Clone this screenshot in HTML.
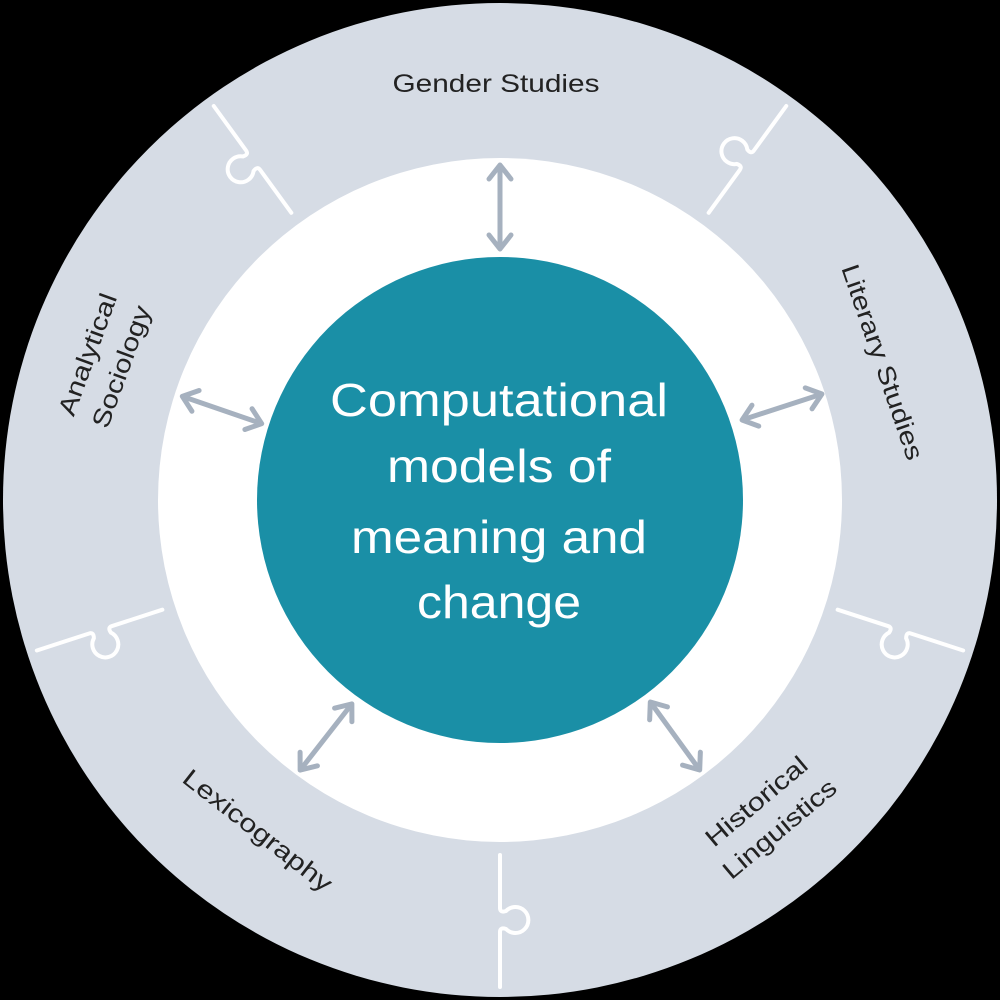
<!DOCTYPE html>
<html><head><style>html,body{margin:0;padding:0;background:#000}svg{display:block}</style></head>
<body>
<svg width="1000" height="1000" viewBox="0 0 1000 1000" xmlns="http://www.w3.org/2000/svg">
<defs>
<g id="sep"><path d="M355,0 L408,0 Q413,0 411,6 A13,13 0 1 0 429,6 Q427,0 432,0 L487,0" fill="none" stroke="#fff" stroke-width="4" stroke-linecap="round"/></g>
<g id="arr"><line x1="0" y1="-40" x2="0" y2="40" stroke="#a6b1bf" stroke-width="5"/><polyline points="-11,-28 0,-42 11,-28" fill="none" stroke="#a6b1bf" stroke-width="5" stroke-linecap="round" stroke-linejoin="round"/><polyline points="-11,28 0,42 11,28" fill="none" stroke="#a6b1bf" stroke-width="5" stroke-linecap="round" stroke-linejoin="round"/></g>
</defs>
<rect width="1000" height="1000" fill="#000"/>
<circle cx="500" cy="500" r="497" fill="#d6dce5"/>
<circle cx="500" cy="500" r="342" fill="#fff"/>
<circle cx="500" cy="500" r="243" fill="#1a8fa6"/>
<g transform="translate(500,500)">
<use href="#sep" transform="rotate(90) scale(1,-1)"/>
<use href="#sep" transform="rotate(162) scale(1,-1)"/>
<use href="#sep" transform="rotate(234) scale(1,-1)"/>
<use href="#sep" transform="rotate(306) scale(1,-1)"/>
<use href="#sep" transform="rotate(18)"/>
</g>
<use href="#arr" transform="translate(500,207)"/>
<use href="#arr" transform="translate(222,410) rotate(-71)"/>
<use href="#arr" transform="translate(782,407) rotate(72)"/>
<use href="#arr" transform="translate(326,737) rotate(38)"/>
<use href="#arr" transform="translate(675,736) rotate(-36)"/>
<g font-family="'Liberation Sans', sans-serif" fill="#fff" font-size="46" text-anchor="middle">
<text x="499" y="416" textLength="338" lengthAdjust="spacingAndGlyphs">Computational</text>
<text x="499" y="482" textLength="224" lengthAdjust="spacingAndGlyphs">models of</text>
<text x="499" y="553" textLength="296" lengthAdjust="spacingAndGlyphs">meaning and</text>
<text x="499" y="618" textLength="164" lengthAdjust="spacingAndGlyphs">change</text>
</g>
<g font-family="'Liberation Sans', sans-serif" fill="#222" font-size="25" text-anchor="middle">
<text x="496" y="92" textLength="207" lengthAdjust="spacingAndGlyphs">Gender Studies</text>
<g transform="translate(103,360) rotate(-70)"><text x="0" y="-8" textLength="128" lengthAdjust="spacingAndGlyphs">Analytical</text><text x="0" y="28" textLength="128" lengthAdjust="spacingAndGlyphs">Sociology</text></g>
<g transform="translate(883,362) rotate(71)"><text x="0" y="9" textLength="205" lengthAdjust="spacingAndGlyphs">Literary Studies</text></g>
<g transform="translate(258,830) rotate(38)"><text x="0" y="9" textLength="182" lengthAdjust="spacingAndGlyphs">Lexicography</text></g>
<g transform="translate(767,814) rotate(-40)"><text x="0" y="-8" textLength="125" lengthAdjust="spacingAndGlyphs">Historical</text><text x="0" y="28" textLength="140" lengthAdjust="spacingAndGlyphs">Linguistics</text></g>
</g>
</svg>
</body></html>
